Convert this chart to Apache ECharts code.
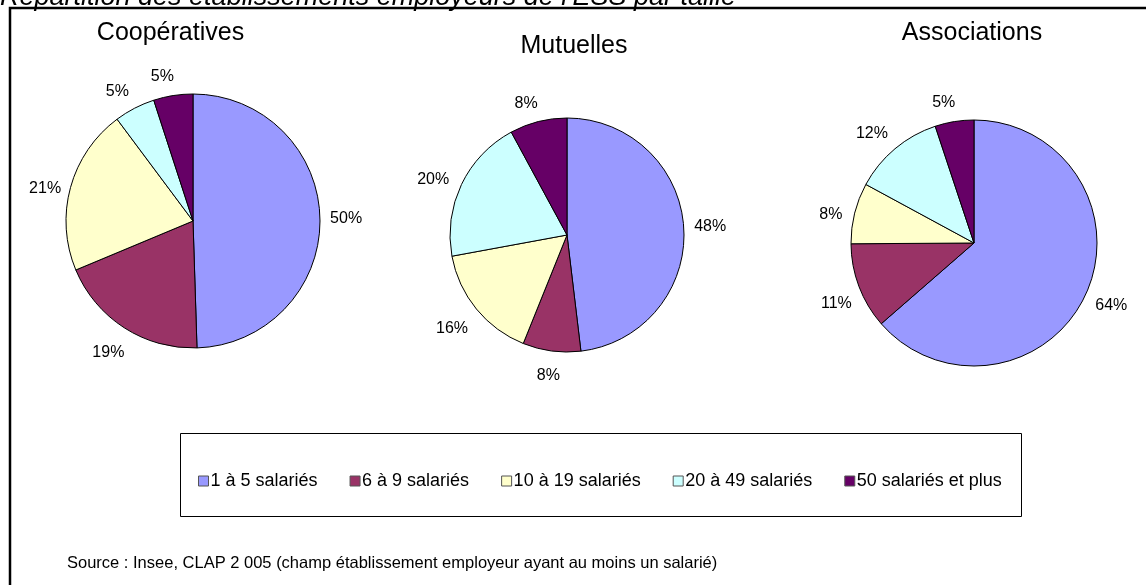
<!DOCTYPE html>
<html><head><meta charset="utf-8">
<script src="https://cdn.jsdelivr.net/npm/echarts@6/dist/echarts.min.js"></script>
<style>html,body{margin:0;padding:0;background:#fff}#c{width:1146px;height:585px}</style>
</head><body><div id="c"></div>
<script>
const categories = ['1 à 5 salariés','6 à 9 salariés','10 à 19 salariés','20 à 49 salariés','50 salariés et plus'];
const cooperatives = [49.5,19.2,21.1,5.2,5.0];
const mutuelles = [48.1,8.0,16.0,20.0,7.9];
const associations = [63.6,11.3,8.0,12.0,5.1];
const pieTitles = ['Coopératives','Mutuelles','Associations'];
const mainTitle = "Répartition des établissements employeurs de l'ESS par taille";
const sourceText = 'Source : Insee, CLAP 2 005 (champ établissement employeur ayant au moins un salarié)';
const colors = ['#9999FF','#993366','#FFFFCC','#CCFFFF','#660066'];

const FONT = "'Liberation Sans', Arial, sans-serif";
const chart = echarts.init(document.getElementById('c'), null, {renderer:'canvas'});

// layout / style config (not data)
const pies = [
  {vals: cooperatives, center:[193,221], r:127, title:[170.5,21], extra:{1:4, 2:-3}},
  {vals: mutuelles, center:[567,235], r:117, title:[574,34], extra:{1:5, 2:4}},
  {vals: associations, center:[974,243], r:123, title:[972,21], extra:{}}
];
const LABEL_GAP = 10;
const UPPER_LEFT_ROT = -3 * Math.PI/180;

function makeLayout(p){
  const total = p.vals.reduce((a,b)=>a+b,0);
  return function(params){
    const i = params.dataIndex;
    let cum = 0;
    for (let k=0;k<i;k++) cum += p.vals[k];
    let mid = (cum + p.vals[i]/2)/total*Math.PI*2;
    if (mid > Math.PI*4/3) mid += UPPER_LEFT_ROT;
    const dx = Math.sin(mid), dy = -Math.cos(mid);
    const w = params.labelRect.width, h = params.labelRect.height;
    const d = p.r + LABEL_GAP + Math.abs(dx)*w/2 + Math.abs(dy)*h/2 + (p.extra[i]||0);
    return {x: p.center[0] + dx*d, y: p.center[1] + dy*d, align:'center', verticalAlign:'middle'};
  };
}

const series = pies.map((p,i)=>({
  type:'pie',
  name: pieTitles[i],
  center: p.center,
  radius: p.r,
  startAngle: 90,
  clockwise: true,
  avoidLabelOverlap: false,
  animation: false,
  silent: true,
  itemStyle:{borderColor:'#000', borderWidth:1},
  label:{show:true, position:'outside', formatter: d=>Math.round(d.percent)+'%', fontFamily:FONT, fontSize:16, color:'#000', distanceToLabelLine:0},
  labelLine:{show:false, length:10, length2:0},
  labelLayout: makeLayout(p),
  emphasis:{disabled:true},
  data: categories.map((c,k)=>({name:c, value:p.vals[k], itemStyle:{color:colors[k]}}))
}));

const graphics = [
  {type:'rect', shape:{x:10, y:8, width:1200, height:700}, style:{fill:'none', stroke:'#000', lineWidth:2.5}, silent:true},
  {type:'rect', shape:{x:180.5, y:433.5, width:841, height:83}, style:{fill:'#fff', stroke:'#000', lineWidth:1}, silent:true, z:-1},
  {type:'text', x:0, y:-16, style:{text:mainTitle, font:"italic 27px "+FONT, fill:'#000', textAlign:'left', textVerticalAlign:'top'}, silent:true},
  {type:'text', x:67, y:555, style:{text:sourceText, font:"16.5px "+FONT, fill:'#000', textAlign:'left', textVerticalAlign:'top'}, silent:true}
];
pies.forEach((p,i)=>graphics.push({type:'text', x:p.title[0], y:p.title[1], style:{text:pieTitles[i], font:"25px "+FONT, fill:'#000', textAlign:'center', textVerticalAlign:'top'}, silent:true}));

chart.setOption({
  animation:false,
  color: colors,
  legend:{
    data: categories,
    left: 193, top: 467,
    itemWidth: 10, itemHeight: 10, itemGap: 32,
    icon: 'rect',
    itemStyle:{borderColor:'#555', borderWidth:1},
    textStyle:{fontFamily:FONT, fontSize:18, color:'#000', padding:[0,0,0,-3]},
    selectedMode:false
  },
  graphic: graphics,
  series: series
});
</script></body></html>
